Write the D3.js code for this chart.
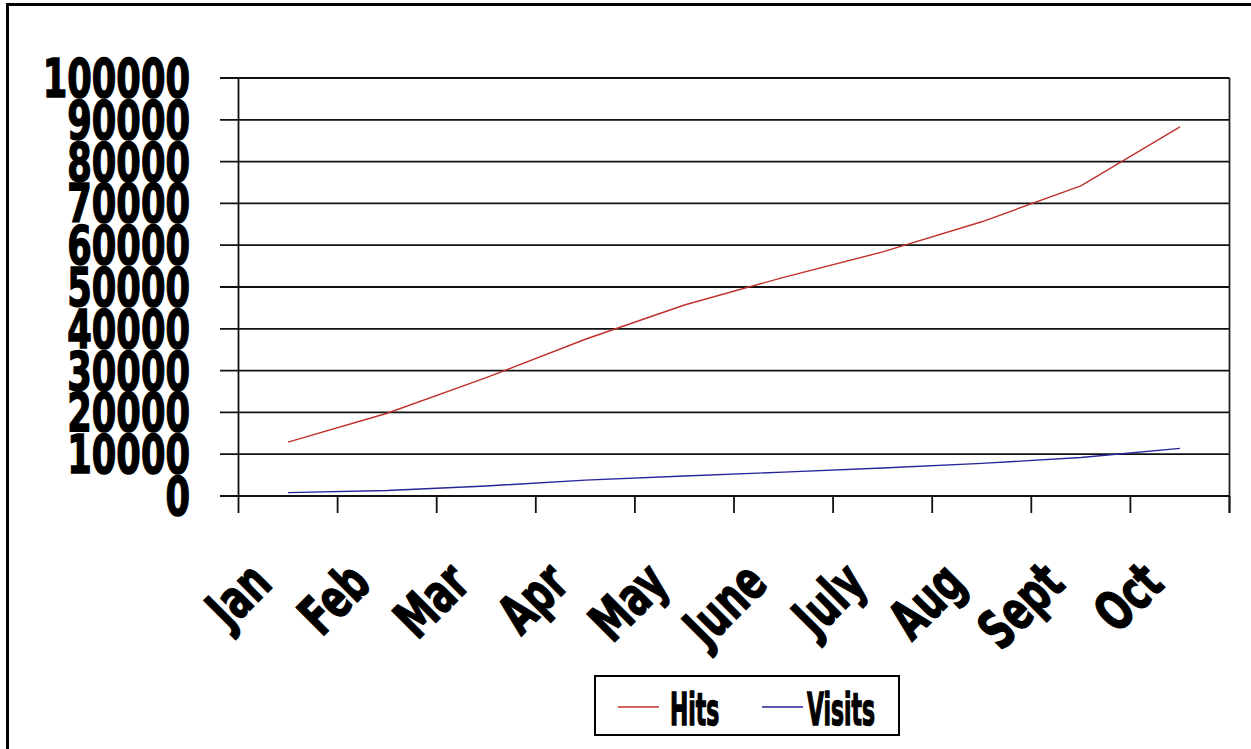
<!DOCTYPE html>
<html>
<head>
<meta charset="utf-8">
<script src="https://cdn.jsdelivr.net/npm/d3@7"></script>
<style>
  html, body { margin: 0; padding: 0; background: #fff; }
  svg { display: block; }
  .lbl { font-family: "DejaVu Sans Condensed", "DejaVu Sans", sans-serif; font-weight: bold; fill: #000; stroke: #000; stroke-width: 1.4; }
</style>
</head>
<body>
<svg id="chart" width="1251" height="749"></svg>
<script>
const months = ["Jan", "Feb", "Mar", "Apr", "May", "June", "July", "Aug", "Sept", "Oct"];
const hits   = [12900, 19800, 28300, 37500, 45700, 52300, 58400, 65600, 74200, 88300];
const visits = [800, 1300, 2400, 3800, 4800, 5700, 6700, 7800, 9200, 11400];
const yTicks = [0, 10000, 20000, 30000, 40000, 50000, 60000, 70000, 80000, 90000, 100000];
const seriesNames = ["Hits", "Visits"];
const seriesColors = ["#c0302c", "#26269a"];

const svg = d3.select("#chart");

// outer frame (top and left edges only visible)
svg.append("line").attr("x1", 6).attr("x2", 1251).attr("y1", 4.5).attr("y2", 4.5).attr("stroke", "#000").attr("stroke-width", 3);
svg.append("line").attr("x1", 7.5).attr("x2", 7.5).attr("y1", 3).attr("y2", 749).attr("stroke", "#000").attr("stroke-width", 3);

const x = d3.scaleBand().domain(months).range([238.5, 1229.5]).padding(0);
const y = d3.scaleLinear().domain([0, 100000]).range([496, 78]);

// gridlines + left ticks
svg.append("g").selectAll("line").data(yTicks).join("line")
  .attr("x1", 220).attr("x2", 1229.5)
  .attr("y1", d => y(d)).attr("y2", d => y(d))
  .attr("stroke", "#111").attr("stroke-width", 1.8);

// right border of plot area
svg.append("line").attr("x1", 1229.5).attr("x2", 1229.5).attr("y1", y(100000)).attr("y2", y(0) + 17)
  .attr("stroke", "#222").attr("stroke-width", 1.8);

// y axis line
svg.append("line").attr("x1", 238.5).attr("x2", 238.5).attr("y1", y(100000)).attr("y2", y(0) + 17)
  .attr("stroke", "#111").attr("stroke-width", 1.8);

// x ticks at band boundaries
const bounds = months.map(m => x(m)).concat([x(months[months.length - 1]) + x.bandwidth()]);
svg.append("g").selectAll("line").data(bounds.slice(1)).join("line")
  .attr("x1", d => d).attr("x2", d => d)
  .attr("y1", y(0)).attr("y2", y(0) + 17)
  .attr("stroke", "#111").attr("stroke-width", 1.8);

// y labels
svg.append("g").selectAll("text").data(yTicks).join("text")
  .attr("class", "lbl")
  .attr("text-anchor", "end")
  .attr("font-size", 53)
  .attr("transform", d => `translate(190,${y(d) + 19}) scale(0.74,1)`)
  .text(d => d);

// x labels rotated
svg.append("g").selectAll("text").data(months).join("text")
  .attr("class", "lbl")
  .attr("text-anchor", "end")
  .attr("font-size", 54)
  .attr("transform", d => `translate(${x(d) + x.bandwidth() / 2 - 14},586) rotate(-45) scale(0.74,1)`)
  .text(d => d);

// lines
const line = d3.line().x((d, i) => x(months[i]) + x.bandwidth() / 2).y(d => y(d));
[hits, visits].forEach((s, k) => {
  svg.append("path").datum(s)
    .attr("fill", "none")
    .attr("stroke", seriesColors[k])
    .attr("stroke-width", 1.4)
    .attr("d", line);
});

// legend
const lg = svg.append("g");
lg.append("rect").attr("x", 595).attr("y", 676).attr("width", 304).attr("height", 59)
  .attr("fill", "#fff").attr("stroke", "#000").attr("stroke-width", 2);
const legendItems = [
  { name: seriesNames[0], color: seriesColors[0], lx: 618, tx: 670 },
  { name: seriesNames[1], color: seriesColors[1], lx: 762, tx: 807 }
];
legendItems.forEach(it => {
  lg.append("line").attr("x1", it.lx).attr("x2", it.lx + 41).attr("y1", 707).attr("y2", 707)
    .attr("stroke", it.color).attr("stroke-width", 1.6);
  lg.append("text").attr("class", "lbl").attr("font-size", 45)
    .attr("transform", `translate(${it.tx},725) scale(0.54,1)`)
    .text(it.name);
});
</script>
</body>
</html>
